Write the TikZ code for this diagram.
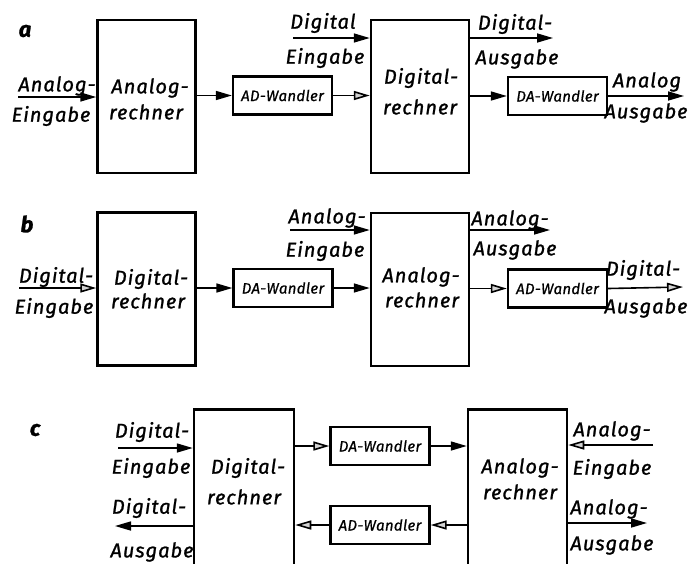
\documentclass[tikz,border=0pt]{standalone}
\usepackage{fontspec}
\newfontfamily\labfont{Fira Sans}[LetterSpace=5, FakeBold=1.2]
\newfontfamily\smallfont{Fira Sans}[LetterSpace=2, FakeBold=0.8]
\usetikzlibrary{arrows.meta}
\tikzset{
  bigbox/.style={draw, line width=2.5pt, minimum width=98pt, minimum height=153pt, inner sep=0pt},
  smallbox/.style={draw, line width=2.3pt, minimum width=99pt, minimum height=38pt, inner sep=0pt,
    font=\smallfont\itshape\fontsize{15}{17}\selectfont},
  lbl/.style={inner sep=0pt, font=\labfont\itshape\fontsize{20}{22}\selectfont},
  panel/.style={inner sep=0pt, font=\labfont\bfseries\itshape\fontsize{22}{24}\selectfont},
  conn/.style={line width=1.6pt},
  fa/.style={conn, -{Triangle[length=16pt, width=9pt]}},
  ha/.style={conn, -{Triangle[length=16pt, width=9pt, fill=gray!35]}}
}
\begin{document}
\begin{tikzpicture}[x=1pt, y=-1pt]
\useasboundingbox (0,0) rectangle (700,563);
\clip (0,0) rectangle (700,563);

% ---------------- panel a ----------------
\node[panel] (pa) at (25,31) {a};
\node[bigbox] (ar1) at (146.5,96.5) {};
\node[lbl] (ar1t1) at (150,88) {Analog-};
\node[lbl] (ar1t2) at (146,112) {rechner};
\node[smallbox] (ad1) at (282.5,95.5) {AD-Wandler};
\node[bigbox] (dr1) at (420,96.5) {};
\node[lbl] (dr1t1) at (421,78) {Digital-};
\node[lbl] (dr1t2) at (420,107) {rechner};
\node[smallbox] (da1) at (557.5,96) {DA-Wandler};

\coordinate (ina) at (18,97);
\draw[fa] (ina) -- (ina -| ar1.west);
\node[lbl] (ina1) at (57,86) {Analog-};
\node[lbl] (ina2) at (51,116) {Eingabe};

\draw[fa] (ar1.east |- ad1.west) -- (ad1.west);
\draw[ha] (ad1.east) -- (ad1.east -| dr1.west);

\coordinate (dina) at (293,38);
\draw[fa] (dina) -- (dina -| dr1.west);
\node[lbl] (dina1) at (323,23) {Digital};
\node[lbl] (dina2) at (325,58) {Eingabe};

\coordinate (douta) at (553,38);
\draw[fa] (douta -| dr1.east) -- (douta);
\node[lbl] (douta1) at (515,24) {Digital-};
\node[lbl] (douta2) at (517,59) {Ausgabe};

\draw[fa] (dr1.east |- da1.west) -- (da1.west);
\coordinate (aouta) at (684,96);
\draw[fa] (da1.east) -- (aouta);
\node[lbl] (aouta1) at (647,82) {Analog};
\node[lbl] (aouta2) at (646,113) {Ausgabe};

% ---------------- panel b ----------------
\node[panel] (pb) at (27,224) {b};
\node[bigbox] (dr2) at (146.5,289) {};
\node[lbl] (dr2t1) at (151,279) {Digital-};
\node[lbl] (dr2t2) at (148,301) {rechner};
\node[smallbox] (da2) at (283,288) {DA-Wandler};
\node[bigbox] (ar2) at (420,289.5) {};
\node[lbl] (ar2t1) at (421,277) {Analog-};
\node[lbl] (ar2t2) at (422,300) {rechner};
\node[smallbox] (ad2) at (557.5,288.5) {AD-Wandler};

\coordinate (dinb) at (19,288);
\draw[ha] (dinb) -- (dinb -| dr2.west);
\node[lbl] (dinb1) at (56,277) {Digital-};
\node[lbl] (dinb2) at (54,308) {Eingabe};

\draw[fa] (dr2.east |- da2.west) -- (da2.west);
\draw[fa] (da2.east) -- (da2.east -| ar2.west);

\coordinate (ainb) at (290,230);
\draw[fa] (ainb) -- (ainb -| ar2.west);
\node[lbl] (ainb1) at (327,218) {Analog-};
\node[lbl] (ainb2) at (325,251) {Eingabe};

\coordinate (aoutb) at (550,230);
\draw[fa] (aoutb -| ar2.east) -- (aoutb);
\node[lbl] (aoutb1) at (510,220) {Analog-};
\node[lbl] (aoutb2) at (515,250) {Ausgabe};

\draw[ha] (ar2.east |- ad2.west) -- (ad2.west);
\coordinate (doutb) at (683,287);
\draw[ha] (ad2.east) -- (doutb);
\node[lbl] (doutb1) at (643,270) {Digital-};
\node[lbl] (doutb2) at (646,308) {Ausgabe};

% ---------------- panel c ----------------
\node[panel] (pc) at (35,430) {c};
\node[bigbox, minimum width=100pt, minimum height=220pt, anchor=north] (dr3) at (244,408) {};
\node[lbl] (dr3t1) at (248,468) {Digital-};
\node[lbl] (dr3t2) at (244,497) {rechner};
\node[smallbox] (da3) at (380,446) {DA-Wandler};
\node[smallbox] (ad3) at (380,525) {AD-Wandler};
\node[bigbox, minimum width=99pt, minimum height=220pt, anchor=north] (ar3) at (517.5,408) {};
\node[lbl] (ar3t1) at (520,468) {Analog-};
\node[lbl] (ar3t2) at (520,492) {rechner};

\draw[ha] (dr3.east |- da3.west) -- (da3.west);
\draw[fa] (da3.east) -- (da3.east -| ar3.west);
\draw[ha] (ar3.west |- ad3.east) -- (ad3.east);
\draw[ha] (ad3.west) -- (ad3.west -| dr3.east);

\coordinate (dinc) at (118,448);
\draw[fa] (dinc) -- (dinc -| dr3.west);
\node[lbl] (dinc1) at (152,432) {Digital-};
\node[lbl] (dinc2) at (151,468) {Eingabe};

\coordinate (doutc) at (115,526);
\draw[fa] (doutc -| dr3.west) -- (doutc);
\node[lbl] (doutc1) at (149,508) {Digital-};
\node[lbl] (doutc2) at (152,552) {Ausgabe};

\coordinate (ainc) at (653,445);
\draw[ha] (ainc) -- (ainc -| ar3.east);
\node[lbl] (ainc1) at (612,431) {Analog-};
\node[lbl] (ainc2) at (612,469) {Eingabe};

\coordinate (aoutc) at (647,523);
\draw[fa] (aoutc -| ar3.east) -- (aoutc);
\node[lbl] (aoutc1) at (609,509) {Analog-};
\node[lbl] (aoutc2) at (612,545) {Ausgabe};
\end{tikzpicture}
\end{document}
